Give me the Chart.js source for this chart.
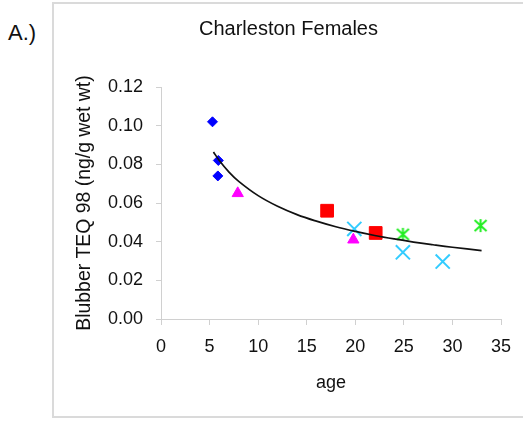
<!DOCTYPE html>
<html>
<head>
<meta charset="utf-8">
<script src="https://cdn.jsdelivr.net/npm/chart.js@4.4.1/dist/chart.umd.min.js"></script>
<style>
  body { margin: 0; width: 523px; height: 423px; position: relative; background: #fff; overflow: hidden; }
  #panel { position: absolute; left: 8px; top: 20px; font: 22px 'Liberation Sans', Arial, sans-serif; color: #111; }
  #frame { position: absolute; left: 52px; top: 2px; width: 471px; height: 416px; box-sizing: border-box;
           border: 2px solid #dadada; border-right: none; }
  #frame div { position: relative; width: 100%; height: 100%; }
</style>
</head>
<body>
<div id="panel">A.)</div>
<div id="frame"><div><canvas id="teqChart"></canvas></div></div>
<script>
// age (years) vs blubber TEQ 98, grouped by marker
const ageDiamond = [5.3, 5.9, 5.85];
const teqDiamond = [0.102, 0.082, 0.074];
const ageTriangle = [7.9, 19.8];
const teqTriangle = [0.065, 0.041];
const ageSquare = [17.1, 22.1];
const teqSquare = [0.056, 0.0445];
const ageCross = [19.9, 24.9, 29.0];
const teqCross = [0.0466, 0.0345, 0.0297];
const ageStar = [24.9, 32.9];
const teqStar = [0.0438, 0.0483];

// trend curve
const trendAge = [5.4, 6, 7, 8, 10, 12, 14, 16, 18, 20, 22, 24, 26, 28, 30, 33];
const trendTeq = [0.0864, 0.0820, 0.0760, 0.0712, 0.0638, 0.0583, 0.0540, 0.0506, 0.0477,
                  0.0453, 0.0432, 0.0414, 0.0398, 0.0384, 0.0371, 0.0354];

const xTicks = [0, 5, 10, 15, 20, 25, 30, 35];
const yTicks = [0, 0.02, 0.04, 0.06, 0.08, 0.10, 0.12];

const pts = (xs, ys) => xs.map((x, i) => ({ x: x, y: ys[i] }));

// asterisk marker: X plus a vertical bar
const star = document.createElement('canvas');
star.width = 15;
star.height = 15;
(function () {
  const c = star.getContext('2d');
  c.strokeStyle = '#22ee22';
  c.lineWidth = 2;
  c.beginPath();
  c.moveTo(7.5, 1); c.lineTo(7.5, 14);
  c.moveTo(1.5, 2); c.lineTo(13.5, 13);
  c.moveTo(13.5, 2); c.lineTo(1.5, 13);
  c.stroke();
})();

const family = "'Liberation Sans', Arial, sans-serif";
const font = { family: family, size: 18 };
const axisGray = '#d0d0d0';

new Chart(document.getElementById('teqChart'), {
  type: 'scatter',
  data: {
    datasets: [
      {
        data: pts(trendAge, trendTeq),
        showLine: true,
        borderColor: '#111',
        borderWidth: 1.7,
        tension: 0.4,
        pointRadius: 0,
      },
      {
        data: pts(ageDiamond, teqDiamond),
        pointStyle: 'rectRot',
        pointRadius: 5,
        backgroundColor: '#0000ff',
        borderColor: '#0000ff',
        borderWidth: 1,
      },
      {
        data: pts(ageTriangle, teqTriangle),
        pointStyle: 'triangle',
        pointRadius: 6.5,
        backgroundColor: '#ff00ff',
        borderColor: '#ff00ff',
        borderWidth: 1,
      },
      {
        data: pts(ageSquare, teqSquare),
        pointStyle: 'rect',
        pointRadius: 9,
        backgroundColor: '#ff0000',
        borderColor: '#ff0000',
        borderWidth: 1,
      },
      {
        data: pts(ageCross, teqCross),
        pointStyle: 'crossRot',
        pointRadius: 10,
        borderColor: '#33ccff',
        borderWidth: 2,
      },
      {
        data: pts(ageStar, teqStar),
        pointStyle: star,
        pointRadius: 7,
      },
    ]
  },
  options: {
    animation: false,
    maintainAspectRatio: false,
    layout: { padding: 0 },
    plugins: {
      legend: { display: false },
      tooltip: { enabled: false },
      title: {
        display: true,
        text: 'Charleston Females',
        color: '#111',
        font: { family: family, size: 20, weight: 'normal' },
        padding: { top: 13, bottom: 46 },
      },
    },
    scales: {
      x: {
        type: 'linear',
        min: 0,
        max: 35,
        afterFit: (s) => { s.height = 97; },
        afterBuildTicks: (s) => { s.ticks = xTicks.map(v => ({ value: v })); },
        grid: { drawOnChartArea: false, tickLength: 6, color: axisGray },
        border: { color: axisGray },
        ticks: { color: '#111', font: font, padding: 11, maxRotation: 0 },
        title: { display: true, text: 'age', color: '#111', font: font, padding: { top: 0, bottom: 22 } },
      },
      y: {
        min: 0,
        max: 0.12,
        afterFit: (s) => { s.width = 107; },
        afterBuildTicks: (s) => { s.ticks = yTicks.map(v => ({ value: v })); },
        grid: { drawOnChartArea: false, tickLength: 5, color: axisGray },
        border: { color: axisGray },
        ticks: { color: '#111', font: font, padding: 13, callback: (v) => v.toFixed(2) },
        title: {
          display: true,
          text: 'Blubber TEQ 98 (ng/g wet wt)',
          color: '#111',
          font: { family: family, size: 19.4 },
          padding: { top: 19, bottom: 0 },
        },
      },
      // empty strip on the right so the title stays centred on the whole box
      gap: {
        position: 'right',
        min: 0,
        max: 1,
        afterFit: (s) => { s.width = 22; },
        grid: { display: false },
        border: { display: false },
        ticks: { display: false },
      },
    },
  },
});
</script>
</body>
</html>
